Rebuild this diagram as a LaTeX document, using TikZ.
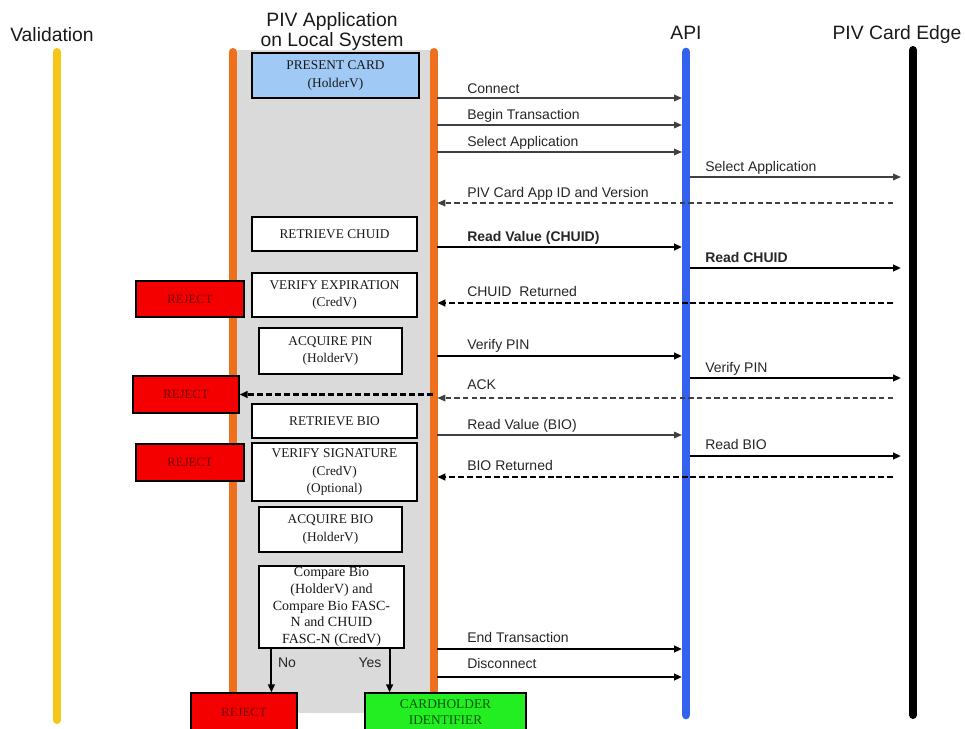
\documentclass[tikz,border=0pt]{standalone}
\usepackage{fontspec}
\setmainfont{Liberation Serif}
\newfontfamily\arialfont{Liberation Sans}
\usetikzlibrary{arrows.meta}

\definecolor{valyellow}{RGB}{245,198,22}
\definecolor{apporange}{RGB}{238,112,28}
\definecolor{appgray}{RGB}{218,218,218}
\definecolor{apiblue}{RGB}{50,98,238}
\definecolor{presentblue}{RGB}{160,202,245}
\definecolor{rejectred}{RGB}{245,0,0}
\definecolor{rejecttext}{RGB}{115,0,0}
\definecolor{okgreen}{RGB}{34,238,34}
\definecolor{oktext}{RGB}{0,85,0}

\tikzset{
  lifeline/.style={line width=6pt, line cap=round},
  stepbox/.style={draw=black, line width=0.9pt, fill=white, align=center,
    inner sep=0pt, text=black!90, font=\fontsize{10}{13}\selectfont},
  rejectbox/.style={draw=black, line width=0.9pt, fill=rejectred, align=center,
    inner sep=0pt, text=rejecttext, font=\fontsize{9.5}{12}\selectfont},
  okbox/.style={draw=black, line width=0.9pt, fill=okgreen, align=center,
    inner sep=0pt, text=oktext, font=\fontsize{10}{12}\selectfont},
  title/.style={font=\arialfont\fontsize{14.5}{15}\selectfont, align=center,
    inner sep=0pt, text=black!90},
  lbl/.style={font=\arialfont\fontsize{10.5}{12}\selectfont, anchor=base west,
    inner sep=0pt, text=black!85},
  tip/.style={-{Triangle[length=6pt,width=5pt]}},
  callthin/.style={tip, line width=0.9pt, draw=black!75},
  callthick/.style={tip, line width=2pt, draw=black},
  retthin/.style={callthin, dash pattern=on 4pt off 2.5pt},
  retthick/.style={callthick, dash pattern=on 4.5pt off 2.2pt},
  toapi/.style={shorten <=2.5pt, shorten >=3pt},
  tocard/.style={shorten <=3pt, shorten >=9pt},
  fromcard/.style={shorten <=15pt, shorten >=2.5pt},
}

\begin{document}
\begin{tikzpicture}[x=0.75pt,y=-0.75pt]
\useasboundingbox (0,0) rectangle (965,729);

% lifeline end points
\coordinate (valtop) at (57,52);   \coordinate (valbot) at (57,720);
\coordinate (appLtop) at (233,52); \coordinate (appLbot) at (233,700);
\coordinate (appRtop) at (434,52); \coordinate (appRbot) at (434,700);
\coordinate (apitop) at (686,52);  \coordinate (apibot) at (686,715);
\coordinate (cardtop) at (913,50); \coordinate (cardbot) at (913,715);

% column headings
\node[title] (hval) at (52,35) {Validation};
\node[title] (happ) at (332,31) {PIV Application\\on Local System};
\node[title] (hapi) at (686,33) {API};
\node[title] (hcard) at (897,34) {PIV Card Edge};

% local system band and lifelines
\fill[appgray] (237,50) rectangle (431,713);
\draw[lifeline, valyellow] (valtop) -- (valbot);
\draw[lifeline, apporange] (appLtop) -- (appLbot);
\draw[lifeline, apporange] (appRtop) -- (appRbot);
\draw[lifeline, apiblue, line width=6.5pt] (apitop) -- (apibot);
\draw[lifeline, black] (cardtop) -- (cardbot);

% steps on the local system
\node[stepbox, fill=presentblue, minimum width=125.25pt, minimum height=33.75pt]
  (present) at (335.5,75.5) {PRESENT CARD\\(HolderV)};
\node[stepbox, minimum width=123.75pt, minimum height=25.5pt]
  (chuid) at (334.5,234) {RETRIEVE CHUID};
\node[stepbox, minimum width=123.75pt, minimum height=33pt]
  (verexp) at (334.5,295) {VERIFY EXPIRATION\\(CredV)};
\node[stepbox, minimum width=107.25pt, minimum height=34.5pt]
  (acqpin) at (330.5,351) {ACQUIRE PIN\\(HolderV)};
\node[stepbox, minimum width=123.75pt, minimum height=25.5pt]
  (retbio) at (334.5,421) {RETRIEVE BIO};
\node[stepbox, minimum width=123.75pt, minimum height=43.5pt]
  (versig) at (334.5,472) {VERIFY SIGNATURE\\(CredV)\\(Optional)};
\node[stepbox, minimum width=107.25pt, minimum height=33.75pt]
  (acqbio) at (330.5,529.5) {ACQUIRE BIO\\(HolderV)};
\node[stepbox, minimum width=108.75pt, minimum height=61.5pt,
  font=\fontsize{10.5}{12.5}\selectfont]
  (compare) at (331.5,607) {Compare Bio\\(HolderV) and\\Compare Bio FASC-\\N and CHUID\\FASC-N (CredV)};

% outcomes
\node[rejectbox, minimum width=81pt, minimum height=27pt] (rej1) at (190,299) {REJECT};
\node[rejectbox, minimum width=79.5pt, minimum height=27.75pt] (rej2) at (186,394.5) {REJECT};
\node[rejectbox, minimum width=81pt, minimum height=27.75pt] (rej3) at (190,462.5) {REJECT};
\node[rejectbox, minimum width=79.5pt, minimum height=28.5pt] (rej4) at (244,712) {REJECT};
\node[okbox, minimum width=120.75pt, minimum height=28.5pt] (cardholder) at (445.5,712)
  {CARDHOLDER\\IDENTIFIER};

% decision branches
\draw[callthick, line width=1.5pt] ([xshift=9.75pt]compare.south west)
  -- ([xshift=9.75pt]compare.south west |- rej4.north);
\draw[callthick, line width=1.5pt] ([xshift=-11.25pt]compare.south east)
  -- ([xshift=-11.25pt]compare.south east |- cardholder.north);
\node[lbl, anchor=center] (lno) at (287,663) {No};
\node[lbl, anchor=center] (lyes) at (370,663) {Yes};

% messages between the local system, the API and the card
\draw[callthin, toapi] (appRtop |- 0,98) -- (apitop |- 0,98);
\node[lbl] (mconnect) at (467,93) {Connect};
\draw[callthin, toapi] (appRtop |- 0,125) -- (apitop |- 0,125);
\node[lbl] (mbegin) at (467,119) {Begin Transaction};
\draw[callthin, toapi] (appRtop |- 0,152) -- (apitop |- 0,152);
\node[lbl] (mselect) at (467,146) {Select Application};
\draw[callthin, tocard] (apitop |- 0,177) -- (cardtop |- 0,177);
\node[lbl] (mselectcard) at (705,171) {Select Application};
\draw[retthin, fromcard] (cardtop |- 0,203) -- (appRtop |- 0,203);
\node[lbl] (mappid) at (467,197) {PIV Card App ID and Version};

\draw[callthick, toapi] (appRtop |- 0,247) -- (apitop |- 0,247);
\node[lbl, font=\arialfont\bfseries\fontsize{10.5}{12}\selectfont] (mreadchuid) at (467,241) {Read Value (CHUID)};
\draw[callthick, tocard] (apitop |- 0,268) -- (cardtop |- 0,268);
\node[lbl, font=\arialfont\bfseries\fontsize{10.5}{12}\selectfont] (mreadchuidcard) at (705,262) {Read CHUID};
\draw[retthick, fromcard] (cardtop |- 0,303) -- (appRtop |- 0,303);
\node[lbl] (mchuidret) at (467,296) {CHUID\ \ Returned};

\draw[callthick, line width=1.7pt, toapi] (appRtop |- 0,356) -- (apitop |- 0,356);
\node[lbl] (mverify) at (467,349) {Verify PIN};
\draw[callthick, tocard] (apitop |- 0,378) -- (cardtop |- 0,378);
\node[lbl] (mverifycard) at (705,372) {Verify PIN};
\draw[retthin, fromcard] (cardtop |- 0,398) -- (appRtop |- 0,398);
\node[lbl] (mack) at (467,389) {ACK};
\draw[retthick, shorten <=1pt] (appRtop |- rej2.east) -- (rej2.east);

\draw[callthin, toapi] (appRtop |- 0,435) -- (apitop |- 0,435);
\node[lbl] (mreadbio) at (467,429) {Read Value (BIO)};
\draw[callthick, tocard] (apitop |- 0,456) -- (cardtop |- 0,456);
\node[lbl] (mreadbiocard) at (705,449) {Read BIO};
\draw[retthick, fromcard] (cardtop |- 0,477) -- (appRtop |- 0,477);
\node[lbl] (mbioret) at (467,470) {BIO Returned};

\draw[callthick, toapi] (appRtop |- 0,649) -- (apitop |- 0,649);
\node[lbl] (mend) at (467,642) {End Transaction};
\draw[callthick, toapi] (appRtop |- 0,677) -- (apitop |- 0,677);
\node[lbl] (mdisconnect) at (467,668) {Disconnect};
\end{tikzpicture}
\end{document}
